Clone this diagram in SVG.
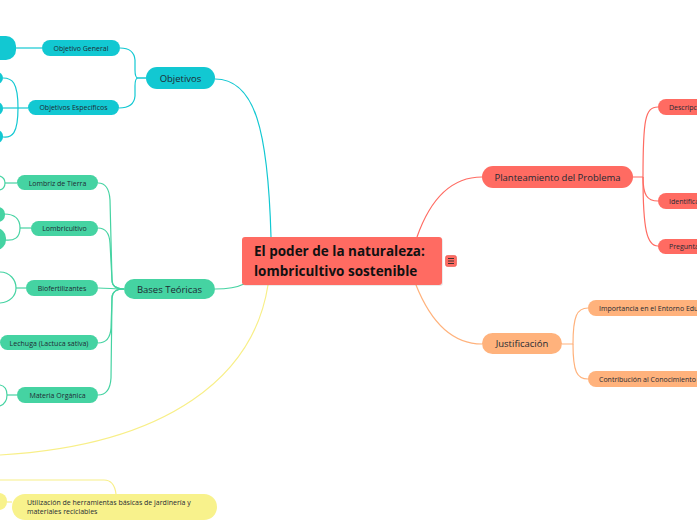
<svg xmlns="http://www.w3.org/2000/svg" width="697" height="520" viewBox="0 0 697 520">
<style>
text{font-family:"Open Sans","Noto Sans",sans-serif;fill:#1e2a33}
.c{fill:none;stroke-width:1.2}
.cy{stroke:#12c8d2}.gr{stroke:#45d3a2}.rd{stroke:#ff6b62}.or{stroke:#ffb27c}.ye{stroke:#f8ef88}
.fcy{fill:#12c8d2}.fgr{fill:#45d3a2}.frd{fill:#ff6b62}.for{fill:#ffb27c}.fye{fill:#f8f28c}
.s{font-size:7px}
.m{font-size:9.5px}
</style>
<rect width="697" height="520" fill="#ffffff"/>
<g id="connectors">
<path class="c cy" d="M215,79 C255,79 268,130 271,237"/>
<path class="c cy" d="M146,78 L138,78 Q135,78 135,70 L135,60 Q134,48 120,48"/>
<path class="c cy" d="M146,78 L138,78 Q135,78 135,86 L135,96 Q134,108 119,108"/>
<path class="c cy" d="M16,48 L42,48"/>
<path class="c cy" d="M28,108 L3,108"/>
<path class="c cy" d="M18,108 C18,82 12,78 3,78"/>
<path class="c cy" d="M18,108 C18,134 12,138 3,137"/>
<path class="c gr" d="M215,289 C228,289 236,288 244,284"/>
<path class="c gr" d="M98,183 Q109,183 110,200 L112,280 Q112,289 124,289"/>
<path class="c gr" d="M98,228 Q109,228 110,243 L112,280 Q112,289 124,289"/>
<path class="c gr" d="M98,288 C108,288 114,289 124,289"/>
<path class="c gr" d="M98,343 Q110,343 111,328 L112,298 Q112,289 124,289"/>
<path class="c gr" d="M98,395 Q110,395 111,378 L112,298 Q112,289 124,289"/>
<path class="c gr" d="M5,183 L17,183"/>
<path class="c gr" d="M31,228 L20,228"/>
<path class="c gr" d="M20,228 C20,218 14,214 4,214"/>
<path class="c gr" d="M20,228 C20,238 14,241 5,240"/>
<path class="c gr" d="M16,288 L26,288"/>
<path class="c gr" d="M7,395 L17,395"/>
<path class="c gr" d="M0,176 C3,177 5,180 5,183 C5,186 3,189 0,190"/>
<path class="c gr" d="M0,272 C10,272 16,280 16,288 C16,296 10,302 0,303"/>
<path class="c gr" d="M0,385 C5,386 7,390 7,395 C7,400 5,404 0,406"/>
<path class="c ye" d="M268,285 C254,375 170,445 0,455"/>
<path class="c ye" d="M0,480 L104,480 C112,480 115,486 116,494"/>
<path class="c ye" d="M7,502 L12,502"/>
<path class="c rd" d="M417,237 C430,200 450,177 482,177"/>
<path class="c rd" d="M633,177 L643,177 C643,120 645,107 658,107"/>
<path class="c rd" d="M643,177 C643,195 647,201 658,201"/>
<path class="c rd" d="M643,177 C643,230 647,246 658,246"/>
<path class="c or" d="M416,285 C430,320 450,344 482,344"/>
<path class="c or" d="M562,344 L573,344 C573,316 577,308 588,308"/>
<path class="c or" d="M573,344 C573,372 577,379 588,379"/>
</g>
<g id="central">
<rect x="243" y="238" width="200" height="48" rx="3" fill="#000" opacity="0.08"/>
<rect x="242" y="237" width="200" height="48" rx="3" class="frd"/>
<text x="254" y="256" font-size="13.5" font-weight="bold" style="fill:#111">El poder de la naturaleza:</text>
<text x="254" y="276" font-size="13.5" font-weight="bold" style="fill:#111">lombricultivo sostenible</text>
</g>
<g id="icon">
<rect x="445.5" y="255.5" width="11" height="11" rx="2" class="frd" stroke="#e0544c" stroke-width="0.6"/>
<path d="M448,258.5 H454 M448,261 H454 M448,263.5 H454" stroke="#2a2a2a" stroke-width="0.9"/>
</g>
<g id="objetivos">
<rect x="146" y="67" width="69" height="22" rx="11" class="fcy"/>
<text x="180.5" y="81.5" class="m" text-anchor="middle">Objetivos</text>
</g>
<g id="objetivo-general">
<rect x="42" y="40" width="78" height="16" rx="8" class="fcy"/>
<text x="81" y="50.5" class="s" text-anchor="middle">Objetivo General</text>
</g>
<g id="objetivo-general-child"><rect x="-30" y="36" width="46" height="24" rx="10" class="fcy"/></g>
<g id="objetivos-especificos">
<rect x="28" y="100" width="91" height="15" rx="7.5" class="fcy"/>
<text x="73.5" y="110" class="s" text-anchor="middle">Objetivos Específicos</text>
</g>
<g id="oe-child-1"><rect x="-20" y="72" width="23" height="12" rx="6" class="fcy"/></g>
<g id="oe-child-2"><rect x="-20" y="102" width="23" height="13" rx="6" class="fcy"/></g>
<g id="oe-child-3"><rect x="-20" y="130" width="23" height="13" rx="6" class="fcy"/></g>
<g id="bases">
<rect x="124" y="279" width="91" height="20" rx="10" class="fgr"/>
<text x="169.5" y="292.5" class="m" text-anchor="middle">Bases Teóricas</text>
</g>
<g id="lombriz">
<rect x="17" y="175" width="81" height="15" rx="7.5" class="fgr"/>
<text x="57.5" y="185.5" class="s" text-anchor="middle">Lombriz de Tierra</text>
</g>
<g id="lombricultivo">
<rect x="31" y="221" width="67" height="15" rx="7.5" class="fgr"/>
<text x="64.5" y="231" class="s" text-anchor="middle">Lombricultivo</text>
</g>
<g id="lc-child-1"><rect x="-20" y="207" width="25" height="15" rx="7" class="fgr"/></g>
<g id="lc-child-2"><rect x="-20" y="228" width="26" height="22" rx="10" class="fgr"/></g>
<g id="biofertilizantes">
<rect x="26" y="280" width="72" height="16" rx="8" class="fgr"/>
<text x="62" y="290.5" class="s" text-anchor="middle">Biofertilizantes</text>
</g>
<g id="lechuga">
<rect x="0" y="335" width="98" height="15" rx="7.5" class="fgr"/>
<text x="49" y="345.5" class="s" text-anchor="middle">Lechuga (Lactuca sativa)</text>
</g>
<g id="materia">
<rect x="17" y="387" width="81" height="16" rx="8" class="fgr"/>
<text x="57.5" y="397.5" class="s" text-anchor="middle">Materia Orgánica</text>
</g>
<g id="utilizacion">
<rect x="12" y="494" width="205" height="26" rx="13" class="fye"/>
<text x="27" y="505" class="s">Utilización de herramientas básicas de jardinería y</text>
<text x="27" y="514" class="s">materiales reciclables</text>
</g>
<g id="util-left"><rect x="-20" y="493" width="27" height="17" rx="8" class="fye"/></g>
<g id="planteamiento">
<rect x="482" y="166" width="151" height="22" rx="11" class="frd"/>
<text x="557.5" y="180.5" class="m" text-anchor="middle">Planteamiento del Problema</text>
</g>
<g id="descripcion">
<rect x="658" y="99" width="80" height="16" rx="8" class="frd"/>
<text x="669" y="109.5" class="s">Descripción</text>
</g>
<g id="identificacion">
<rect x="658" y="193" width="80" height="16" rx="8" class="frd"/>
<text x="669" y="203.5" class="s">Identificación</text>
</g>
<g id="pregunta">
<rect x="658" y="239" width="80" height="15" rx="7.5" class="frd"/>
<text x="669" y="249" class="s">Pregunta</text>
</g>
<g id="justificacion">
<rect x="482" y="333" width="80" height="21" rx="10.5" class="for"/>
<text x="522" y="347" class="m" text-anchor="middle">Justificación</text>
</g>
<g id="importancia">
<rect x="588" y="300" width="140" height="16" rx="8" class="for"/>
<text x="599" y="310.5" class="s">Importancia en el Entorno Educativo</text>
</g>
<g id="contribucion">
<rect x="588" y="371" width="140" height="16" rx="8" class="for"/>
<text x="599" y="381.5" class="s">Contribución al Conocimiento</text>
</g>
</svg>
